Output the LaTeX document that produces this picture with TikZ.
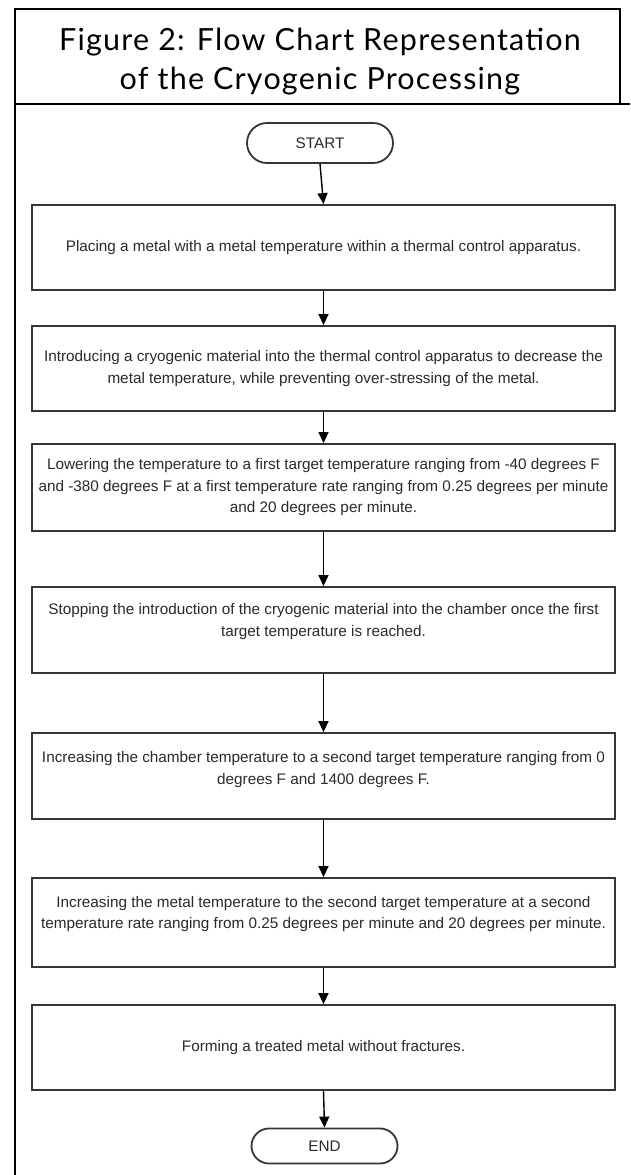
\documentclass[tikz,border=0pt]{standalone}
\usepackage{fontspec}
\setmainfont{Liberation Sans}
\newfontfamily\titlefont[LetterSpace=4]{Lato}
\usetikzlibrary{arrows.meta,shapes.misc}
\definecolor{boxgray}{HTML}{363636}
\definecolor{textgray}{HTML}{2A2A2A}
\begin{document}
\begin{tikzpicture}[x=1pt,y=-1pt,
  stepbox/.style={draw=boxgray, line width=1.8pt, minimum width=583pt, inner sep=0pt,
    align=center, text=textgray, font=\fontsize{15.3}{21.5}\selectfont},
  term/.style={draw=boxgray, line width=1.8pt, rounded rectangle, minimum width=146pt,
    inner sep=0pt, text=textgray, font=\fontsize{15.3}{17}\selectfont},
  arr/.style={draw=black, line width=1.4pt, -{Triangle[length=11pt,width=10pt]}},
  frame/.style={draw=black, line width=1.4pt}]
\useasboundingbox (0,0) rectangle (630,1175);
\fill[white] (0,0) rectangle (630,1175);
% frame
\draw[frame] (15,1175) -- (15,9) -- (620,9) -- (620,104);
\draw[draw=black, line width=2.6pt] (15,104) -- (630,104);
\node[font=\titlefont\fontsize{30.5}{39}\selectfont, align=center, anchor=base] (title) at (320,89)
  {Figure 2: Flow Chart Representation\\of the Cryogenic Processing};
% nodes
\node[term, minimum height=40pt] (start) at (320,143) {START};
\node[stepbox, minimum height=85pt] (b1) at (323.5,247.5)
  {Placing a metal with a metal temperature within a thermal control apparatus.};
\node[stepbox, minimum height=85pt] (b2) at (323.5,368.5)
  {Introducing a cryogenic material into the thermal control apparatus to decrease the\\metal temperature, while preventing over-stressing of the metal.};
\node[stepbox, minimum height=87pt] (b3) at (323.5,487.5)
  {Lowering the temperature to a first target temperature ranging from -40 degrees F\\and -380 degrees F at a first temperature rate ranging from 0.25 degrees per minute\\and 20 degrees per minute.};
\node[stepbox, minimum height=86pt] (b4) at (323.5,630)
  {Stopping the introduction of the cryogenic material into the chamber once the first\\target temperature is reached.\\[-1.5pt]};
\node[stepbox, minimum height=86pt] (b5) at (323.5,776)
  {Increasing the chamber temperature to a second target temperature ranging from 0\\degrees F and 1400 degrees F.\\[-5.5pt]};
\node[stepbox, minimum height=89pt] (b6) at (323.5,922.5)
  {Increasing the metal temperature to the second target temperature at a second\\temperature rate ranging from 0.25 degrees per minute and 20 degrees per minute.\\[-1.5pt]};
\node[stepbox, minimum height=85pt] (b7) at (323.5,1047.5)
  {Forming a treated metal without fractures.};
\node[term, minimum height=35pt] (end) at (324.5,1146) {END};
% connectors
\draw[arr] (start.south) -- (b1.north);
\draw[arr] (b1.south) -- (b2.north);
\draw[arr] (b2.south) -- (b3.north);
\draw[arr] (b3.south) -- (b4.north);
\draw[arr] (b4.south) -- (b5.north);
\draw[arr] (b5.south) -- (b6.north);
\draw[arr] (b6.south) -- (b7.north);
\draw[arr] (b7.south) -- (end.north);
\end{tikzpicture}
\end{document}
